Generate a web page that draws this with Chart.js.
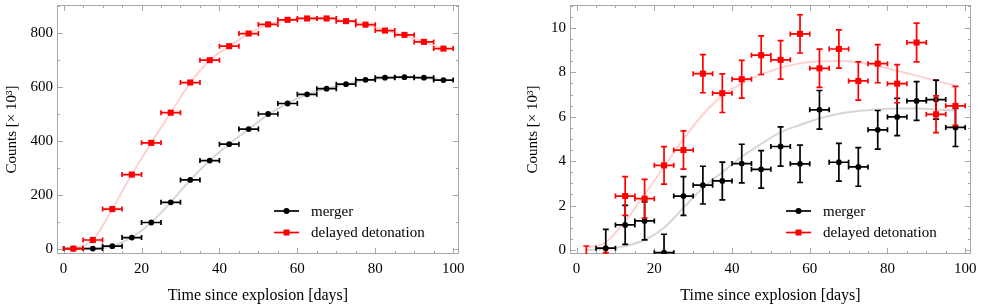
<!DOCTYPE html>
<html>
<head>
<meta charset="utf-8">
<script src="https://cdn.jsdelivr.net/npm/chart.js@4.4.0/dist/chart.umd.min.js"></script>
<style>
  body { margin: 0; background: #fff; }
  .panel { position: absolute; top: 0; height: 305px; }
</style>
</head>
<body>
<div class="panel" style="left:0;width:490px"><canvas id="leftChart" width="490" height="305"></canvas></div>
<div class="panel" style="left:500px;width:481px"><canvas id="rightChart" width="481" height="305"></canvas></div>
<script>
// 5-day bins, centres in days
const binCentres = [2.5, 7.5, 12.5, 17.5, 22.5, 27.5, 32.5, 37.5, 42.5, 47.5,
                    52.5, 57.5, 62.5, 67.5, 72.5, 77.5, 82.5, 87.5, 92.5, 97.5];
const binHalfWidth = 2.5;

// left panel: counts [x 10^3]
const leftMerger  = [0, 0, 9, 41, 97, 172, 255, 327, 388, 444, 500, 539, 573, 594, 611, 627, 635, 637, 635, 626];
const leftDelayed = [0, 32, 147, 275, 393, 505, 617, 700, 752, 799, 833, 850, 855, 855, 845, 832, 810, 794, 768, 743];
const leftMergerModel  = [0, 0, 10, 42, 97, 172, 255, 327, 388, 444, 498, 540, 573, 594, 611, 626, 634, 636, 634, 626];
const leftDelayedModel = [0, 32, 147, 275, 393, 505, 616, 699, 752, 798, 832, 850, 855, 855, 846, 832, 811, 793, 768, 744];

// right panel: counts [x 10^3] with vertical errors
const rightMergerDays = binCentres.slice(1);
const rightMerger     = [0.08, 1.13, 1.31, -0.12, 2.43, 2.92, 3.11, 3.89, 3.63, 4.66, 3.88, 6.31, 3.95, 3.74, 5.41, 5.99, 6.71, 6.77, 5.52];
const rightMergerErr  = [0.85, 0.88, 0.85, 0.83, 0.87, 0.85, 0.85, 0.87, 0.84, 0.88, 0.84, 0.87, 0.85, 0.87, 0.87, 0.84, 0.87, 0.88, 0.86];
const rightDelayed    = [-0.68, -0.98, 2.43, 2.31, 3.81, 4.5, 7.94, 7.06, 7.69, 8.77, 8.56, 9.73, 8.18, 9.05, 7.61, 8.39, 7.49, 9.34, 6.11, 6.49];
const rightDelayedErr = [0.86, 0.86, 0.87, 0.87, 0.84, 0.86, 0.86, 0.87, 0.85, 0.87, 0.87, 0.86, 0.86, 0.86, 0.86, 0.86, 0.86, 0.87, 0.83, 0.88];
const rightMergerModel  = [0, 0.04, 0.18, 0.45, 1.0, 1.9, 2.8, 3.5, 4.2, 4.78, 5.3, 5.63, 5.92, 6.13, 6.26, 6.33, 6.37, 6.37, 6.33, 6.28];
const rightDelayedModel = [0.1, 0.35, 1.3, 2.5, 3.75, 5.0, 6.1, 6.95, 7.5, 7.9, 8.2, 8.41, 8.5, 8.51, 8.45, 8.28, 8.07, 7.85, 7.62, 7.4];

// ticks
const xTickLabels = [0, 20, 40, 60, 80, 100];
const xMinorStep = 5;
const leftYTicks = [0, 200, 400, 600, 800];
const rightYTicks = [0, 2, 4, 6, 8, 10];

const serif = "'Liberation Serif', 'DejaVu Serif', serif";
const frameColor = '#a8a8a8';

function pts(days, vals) {
  return vals.map((v, i) => ({ x: days[i], y: v }));
}

// gray frame with inward ticks on all four sides
const frameTicks = {
  id: 'frameTicks',
  beforeDatasetsDraw(chart, args, opts) {
    const { ctx, chartArea: a, scales: { x, y } } = chart;
    ctx.save();
    ctx.strokeStyle = frameColor;
    ctx.lineWidth = 1;
    ctx.strokeRect(a.left + 0.5, a.top + 0.5, a.width - 1, a.height - 1);
    ctx.beginPath();
    for (let v = 0; v <= 100; v += xMinorStep) {
      const px = Math.round(x.getPixelForValue(v)) + 0.5;
      const len = v % 20 === 0 ? 6 : 3;
      ctx.moveTo(px, a.bottom); ctx.lineTo(px, a.bottom - len);
      ctx.moveTo(px, a.top); ctx.lineTo(px, a.top + len);
    }
    for (let v = 0; v <= y.max + 1e-9; v += opts.yMinor) {
      const py = Math.round(y.getPixelForValue(v)) + 0.5;
      const major = Math.abs(v / opts.yMajor - Math.round(v / opts.yMajor)) < 1e-6;
      const len = major ? 6 : 3;
      ctx.moveTo(a.left, py); ctx.lineTo(a.left + len, py);
      ctx.moveTo(a.right, py); ctx.lineTo(a.right - len, py);
    }
    ctx.stroke();
    ctx.restore();
  }
};

// bin-width and count error bars, drawn just under each marker set
const errorBars = {
  id: 'errorBars',
  beforeDatasetDraw(chart, args) {
    const ds = chart.data.datasets[args.index];
    if (!ds.errX) return;
    const { ctx, chartArea: a, scales: { x, y } } = chart;
    ctx.save();
    ctx.beginPath();
    ctx.rect(a.left, a.top, a.width, a.height);
    ctx.clip();
    ctx.strokeStyle = ds.borderColor;
    ctx.lineWidth = 1.7;
    ds.data.forEach((p, i) => {
      const px = x.getPixelForValue(p.x);
      const py = y.getPixelForValue(p.y);
      const x0 = x.getPixelForValue(p.x - ds.errX);
      const x1 = x.getPixelForValue(p.x + ds.errX);
      ctx.beginPath();
      ctx.moveTo(x0, py); ctx.lineTo(x1, py);
      ctx.moveTo(x0, py - 2.5); ctx.lineTo(x0, py + 2.5);
      ctx.moveTo(x1, py - 2.5); ctx.lineTo(x1, py + 2.5);
      const e = ds.errY ? ds.errY[i] : 0;
      if (e) {
        const y0 = y.getPixelForValue(p.y + e);
        const y1 = y.getPixelForValue(p.y - e);
        ctx.moveTo(px, y0); ctx.lineTo(px, y1);
        ctx.moveTo(px - 3, y0); ctx.lineTo(px + 3, y0);
        ctx.moveTo(px - 3, y1); ctx.lineTo(px + 3, y1);
      }
      ctx.stroke();
    });
    ctx.restore();
  }
};

// legend inside the frame, bottom right
const panelLegend = {
  id: 'panelLegend',
  afterDraw(chart) {
    const { ctx, chartArea: a } = chart;
    const items = [
      { text: 'merger', color: '#000', style: 'circle' },
      { text: 'delayed detonation', color: '#f00', style: 'rect' }
    ];
    const x0 = a.right - 185;
    ctx.save();
    items.forEach((it, i) => {
      const yy = a.bottom - 43 + i * 21.5;
      ctx.strokeStyle = it.color;
      ctx.fillStyle = it.color;
      ctx.lineWidth = 1.7;
      ctx.beginPath();
      ctx.moveTo(x0, yy); ctx.lineTo(x0 + 25, yy);
      ctx.stroke();
      ctx.beginPath();
      if (it.style === 'circle') {
        ctx.arc(x0 + 12.5, yy, 3, 0, Math.PI * 2);
      } else {
        ctx.rect(x0 + 12.5 - 3, yy - 3, 6, 6);
      }
      ctx.fill();
      ctx.fillStyle = '#000';
      ctx.font = '15px ' + serif;
      ctx.textBaseline = 'middle';
      ctx.fillText(it.text, x0 + 37, yy + 1);
    });
    ctx.restore();
  }
};

function makePanel(id, cfg) {
  const datasets = [
    {
      type: 'line', data: pts(cfg.modelDays, cfg.mergerModel),
      borderColor: 'rgba(0,0,0,0.16)', borderWidth: 2, pointRadius: 0,
      cubicInterpolationMode: 'monotone', order: 3
    },
    {
      type: 'line', data: pts(cfg.modelDays, cfg.delayedModel),
      borderColor: 'rgba(255,0,0,0.18)', borderWidth: 2, pointRadius: 0,
      cubicInterpolationMode: 'monotone', order: 2
    },
    {
      type: 'scatter', data: pts(cfg.mergerDays, cfg.merger),
      errX: binHalfWidth, errY: cfg.mergerErr,
      borderColor: '#000', backgroundColor: '#000',
      pointStyle: 'circle', pointRadius: 2.9, pointBorderWidth: 0, order: 1
    },
    {
      type: 'scatter', data: pts(binCentres, cfg.delayed),
      errX: binHalfWidth, errY: cfg.delayedErr,
      borderColor: '#f00', backgroundColor: '#f00',
      pointStyle: 'rect', pointRadius: 4.3, pointBorderWidth: 0, order: 0
    }
  ];

  new Chart(document.getElementById(id), {
    data: { datasets },
    options: {
      responsive: false,
      animation: false,
      devicePixelRatio: 1,
      layout: { padding: { top: 5, right: cfg.padRight, left: 0, bottom: 0 } },
      plugins: {
        legend: { display: false },
        tooltip: { enabled: false },
        frameTicks: { yMinor: cfg.yMinor, yMajor: cfg.yMajor }
      },
      scales: {
        x: {
          type: 'linear', min: -1.7, max: 101.5,
          grid: { display: false, drawTicks: false },
          border: { display: false },
          afterBuildTicks: s => { s.ticks = xTickLabels.map(v => ({ value: v })); },
          afterFit: s => { s.height = 51; s.paddingLeft = 0; s.paddingRight = 0; },
          ticks: { font: { family: serif, size: 15 }, color: '#000', padding: 6, maxRotation: 0, autoSkip: false },
          title: {
            display: true, text: 'Time since explosion [days]', color: '#000',
            font: { family: serif, size: 16 }, padding: { top: 0, bottom: 0 }
          }
        },
        y: {
          type: 'linear', min: cfg.yMin, max: cfg.yMax,
          grid: { display: false, drawTicks: false },
          border: { display: false },
          afterBuildTicks: s => { s.ticks = cfg.yTicks.map(v => ({ value: v })); },
          afterFit: s => { s.width = cfg.yWidth; s.paddingTop = 0; s.paddingBottom = 0; },
          ticks: { font: { family: serif, size: 15 }, color: '#000', padding: 4, autoSkip: false },
          title: {
            display: true, text: 'Counts [× 10³]', color: '#000',
            font: { family: serif, size: 15 }, padding: { top: cfg.titlePad, bottom: 0 }
          }
        }
      }
    },
    plugins: [frameTicks, errorBars, panelLegend]
  });
}

makePanel('leftChart', {
  modelDays: binCentres,
  merger: leftMerger, mergerDays: binCentres, mergerErr: null,
  delayed: leftDelayed, delayedErr: null,
  mergerModel: leftMergerModel, delayedModel: leftDelayedModel,
  yMin: -20, yMax: 905, yTicks: leftYTicks, yMinor: 100, yMajor: 200,
  yWidth: 57, padRight: 31, titlePad: 3
});

makePanel('rightChart', {
  modelDays: binCentres,
  merger: rightMerger, mergerDays: rightMergerDays, mergerErr: rightMergerErr,
  delayed: rightDelayed, delayedErr: rightDelayedErr,
  mergerModel: rightMergerModel, delayedModel: rightDelayedModel,
  yMin: -0.18, yMax: 11.03, yTicks: rightYTicks, yMinor: 0.5, yMajor: 2,
  yWidth: 70, padRight: 10, titlePad: 24
});
</script>
</body>
</html>
